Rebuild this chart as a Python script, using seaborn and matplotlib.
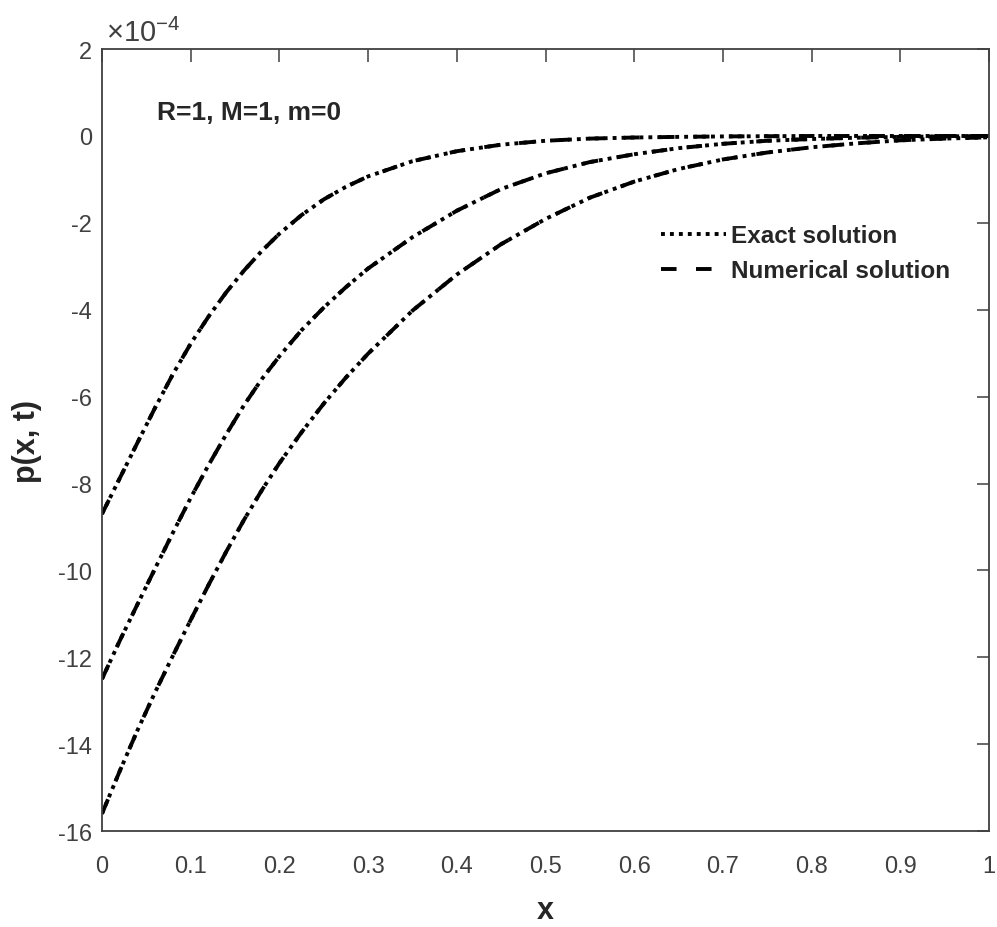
import numpy as np
import pandas as pd
import seaborn as sns
import matplotlib.pyplot as plt
from matplotlib.lines import Line2D

# x grid and p(x, t) values in units of 1e-4
x_vals = [0, 0.02, 0.04, 0.06, 0.08, 0.10, 0.12, 0.14, 0.16, 0.18, 0.20,
          0.225, 0.25, 0.275, 0.30, 0.35, 0.40, 0.45, 0.50, 0.55, 0.60,
          0.65, 0.70, 0.75, 0.80, 0.85, 0.90, 0.95, 1.00]
curve_1 = [-8.70, -7.88, -7.06, -6.25, -5.48, -4.78, -4.16, -3.60, -3.10, -2.65, -2.25,
           -1.82, -1.46, -1.17, -0.93, -0.58, -0.35, -0.20, -0.11, -0.06, -0.035,
           -0.02, -0.01, -0.005, 0.0, 0.0, 0.0, 0.0, 0.0]
curve_2 = [-12.50, -11.62, -10.78, -9.95, -9.13, -8.33, -7.58, -6.87, -6.20, -5.60, -5.07,
           -4.47, -3.95, -3.48, -3.05, -2.33, -1.72, -1.22, -0.86, -0.60, -0.42,
           -0.28, -0.18, -0.11, -0.07, -0.04, -0.02, -0.01, 0.0]
curve_3 = [-15.60, -14.62, -13.68, -12.80, -11.96, -11.14, -10.34, -9.57, -8.84, -8.16, -7.53,
           -6.82, -6.16, -5.56, -5.01, -4.02, -3.19, -2.49, -1.91, -1.42, -1.05,
           -0.76, -0.54, -0.38, -0.26, -0.17, -0.10, -0.06, -0.03]
curves = {"c1": curve_1, "c2": curve_2, "c3": curve_3}
kinds = ["Exact solution", "Numerical solution"]

x_ticks = [0, 0.1, 0.2, 0.3, 0.4, 0.5, 0.6, 0.7, 0.8, 0.9, 1]
x_tick_labels = ["0", "0.1", "0.2", "0.3", "0.4", "0.5", "0.6", "0.7", "0.8", "0.9", "1"]
y_ticks = [-16, -14, -12, -10, -8, -6, -4, -2, 0, 2]
y_tick_labels = ["-16", "-14", "-12", "-10", "-8", "-6", "-4", "-2", "0", "2"]

# long form table: exact and numerical coincide at this resolution
rows = []
for kind in kinds:
    for name, vals in curves.items():
        for xv, pv in zip(x_vals, vals):
            rows.append({"x": xv, "p": pv * 1e-4, "curve": name, "kind": kind})
df = pd.DataFrame(rows)

sns.set_style("white")
plt.rcParams["font.family"] = ["Liberation Sans", "DejaVu Sans"]

fig, ax = plt.subplots(figsize=(9.97, 9.28), dpi=100)
fig.subplots_adjust(left=0.1023, right=0.992, top=0.946, bottom=0.1034)

dash_map = {"Exact solution": (1, 1.3), "Numerical solution": (4, 5)}
sns.lineplot(data=df, x="x", y="p", units="curve", style="kind",
             dashes=dash_map, estimator=None, sort=False, color="black",
             linewidth=2.8, legend=False, ax=ax)

ax.set_xlim(0, 1)
ax.set_ylim(-16e-4, 2e-4)
ax.set_xticks(x_ticks)
ax.set_xticklabels(x_tick_labels)
ax.set_yticks(np.array(y_ticks) * 1e-4)
ax.set_yticklabels(y_tick_labels)

grey = "#404040"
ax.tick_params(axis="both", direction="in", length=9, width=1.1, colors=grey,
               labelsize=17, top=True, right=True)
ax.tick_params(axis="x", pad=17.5)
ax.tick_params(axis="y", pad=7)
for sp in ax.spines.values():
    sp.set_color(grey)
    sp.set_linewidth(1.3)

ax.set_xlabel("x", fontsize=22, fontweight="bold", color="#262626")
ax.set_ylabel("p(x, t)", fontsize=22, fontweight="bold", color="#262626")
ax.xaxis.set_label_coords(0.5, -0.082)
ax.yaxis.set_label_coords(-0.068, 0.5)

ax.text(0.004, 1.010, "\u00d710$^{\\mathregular{-4}}$", transform=ax.transAxes,
        fontsize=21, color=grey, ha="left", va="baseline")
ax.text(0.062, 0.919, "R=1, M=1, m=0", transform=ax.transAxes,
        fontsize=19, fontweight="bold", ha="left", va="center")

handles = [Line2D([], [], color="black", linewidth=2.8, dashes=dash_map[k]) for k in kinds]
leg = ax.legend(handles, kinds, loc="upper left", bbox_to_anchor=(0.605, 0.804),
                frameon=False, handlelength=2.7, handletextpad=0.2, labelspacing=0.5,
                prop={"size": 17.5, "weight": "bold"})

fig.savefig("out.png", dpi=100)
